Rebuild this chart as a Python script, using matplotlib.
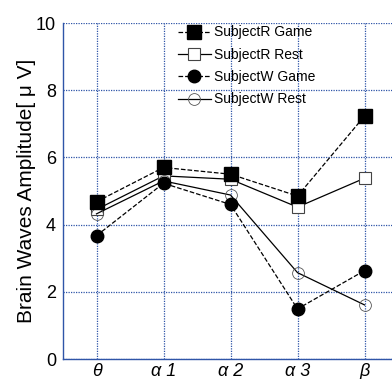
import matplotlib
matplotlib.use("Agg")
import matplotlib.pyplot as plt

plt.rcParams["font.family"] = ["Liberation Sans", "DejaVu Sans"]

bands = ["θ", "α 1", "α 2", "α 3", "β"]
r_game = [4.68, 5.70, 5.50, 4.85, 7.23]
r_rest = [4.45, 5.45, 5.35, 4.52, 5.38]
w_game = [3.67, 5.23, 4.60, 1.49, 2.63]
w_rest = [4.32, 5.30, 4.88, 2.57, 1.61]

GRID = "#2f55a8"
x = list(range(1, len(bands) + 1))

fig = plt.figure(figsize=(3.92, 3.79), dpi=100)
ax = fig.add_axes([63 / 392, 20 / 379, 335 / 392, 336 / 379])

ax.plot(x, r_game, "--", color="black", lw=0.9, marker="s", ms=9.5,
        mfc="black", mec="black", label="SubjectR Game", zorder=4)
ax.plot(x, r_rest, "-", color="black", lw=0.9, marker="s", ms=9,
        mfc="white", mec="#444444", mew=0.8, label="SubjectR Rest", zorder=3)
ax.plot(x, w_game, "--", color="black", lw=0.9, marker="o", ms=9,
        mfc="black", mec="black", label="SubjectW Game", zorder=4)
ax.plot(x, w_rest, "-", color="black", lw=0.9, marker="o", ms=8.5,
        mfc="none", mec="#555555", mew=0.6, label="SubjectW Rest", zorder=3)

ax.set_xlim(0.5, 5.5)
ax.set_ylim(0, 10)
ax.set_yticks([0, 2, 4, 6, 8, 10])
ax.set_xticks(x)
ax.set_xticklabels(bands, style="italic")
ax.tick_params(length=0, labelsize=13, colors="black")
ax.tick_params(axis="y", pad=5)
ax.tick_params(axis="x", pad=3)
ax.grid(True, color=GRID, ls=(0, (1, 1)), lw=0.9)
ax.set_axisbelow(True)
for s in ("top", "right"):
    ax.spines[s].set_visible(False)
for s in ("left", "bottom"):
    ax.spines[s].set_color(GRID)
    ax.spines[s].set_linewidth(1.0)
ax.set_ylabel("Brain Waves Amplitude[ μ V]", fontsize=15)
ax.yaxis.set_label_coords(-0.08, 0.5)

ax.legend(loc="upper left", bbox_to_anchor=(0.305, 1.03), frameon=False,
          fontsize=10, handlelength=2.4, labelspacing=0.6,
          handletextpad=0.2)

fig.savefig("out.png", dpi=100)
